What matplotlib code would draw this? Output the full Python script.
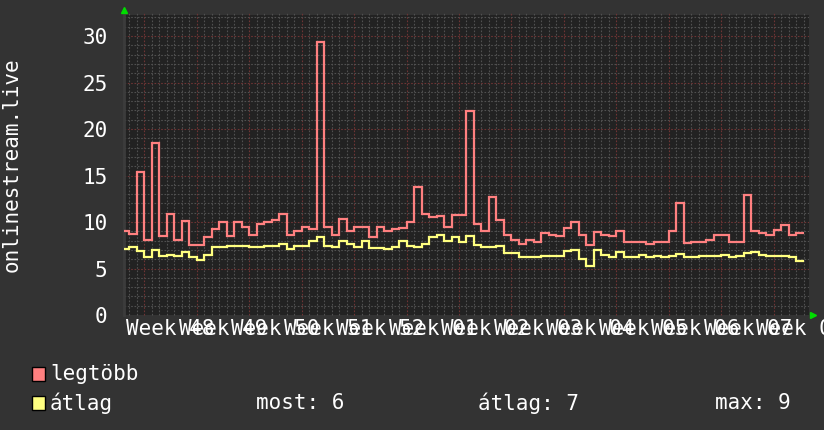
import numpy as np
import matplotlib
matplotlib.use("Agg")
import matplotlib.pyplot as plt
from matplotlib.patches import Rectangle
from matplotlib.lines import Line2D

# daily values, first sample starts 3 days before week 48
MAX_VALUES = [
    9.0, 8.75, 15.4, 8.1, 18.5, 8.5, 10.9, 8.1, 10.1, 7.5,
    7.5, 8.35, 9.3, 10.0, 8.5, 10.0, 9.5, 8.6, 9.8, 10.0,
    10.2, 10.85, 8.55, 9.0, 9.5, 9.2, 29.4, 9.5, 8.55, 10.35,
    9.0, 9.5, 9.5, 8.4, 9.5, 9.0, 9.3, 9.35, 9.95, 13.8,
    10.9, 10.5, 10.6, 9.5, 10.7, 10.7, 21.9, 9.8, 9.0, 12.7,
    10.2, 8.55, 8.1, 7.6, 8.1, 7.9, 8.8, 8.55, 8.45, 9.4,
    10.0, 8.55, 7.5, 8.9, 8.55, 8.45, 9.0, 7.9, 7.85, 7.9,
    7.6, 7.85, 7.85, 9.0, 12.05, 7.75, 7.9, 7.85, 8.1, 8.55,
    8.55, 7.9, 7.8, 12.95, 9.0, 8.8, 8.55, 9.1, 9.65, 8.55,
    8.8,
]
AVG_VALUES = [
    7.13, 7.28, 6.85, 6.24, 7.03, 6.3, 6.4, 6.3, 6.75, 6.2,
    5.95, 6.4, 7.28, 7.3, 7.38, 7.38, 7.38, 7.28, 7.35, 7.38,
    7.45, 7.63, 7.13, 7.38, 7.38, 7.92, 8.39, 7.38, 7.28, 7.99,
    7.63, 7.28, 7.99, 7.2, 7.2, 7.13, 7.3, 7.92, 7.38, 7.28,
    7.63, 8.35, 8.57, 7.92, 8.35, 7.85, 8.46, 7.49, 7.28, 7.28,
    7.38, 6.67, 6.67, 6.2, 6.2, 6.2, 6.38, 6.38, 6.3, 6.85,
    7.03, 6.06, 5.23, 7.03, 6.49, 6.2, 6.74, 6.2, 6.2, 6.49,
    6.2, 6.3, 6.2, 6.3, 6.6, 6.2, 6.2, 6.3, 6.3, 6.38,
    6.49, 6.2, 6.3, 6.67, 6.74, 6.49, 6.3, 6.38, 6.38, 6.2,
    5.77,
]
WEEKS = ["48", "49", "50", "51", "52", "01", "02", "03", "04", "05", "06", "07", "08"]
Y_TICKS = [0, 5, 10, 15, 20, 25, 30]

LEGEND_NAMES = ["legtöbb", "átlag"]
STATS = ["most: 6", "átlag: 7", "max: 9"]

# look
W, H = 824, 430
BG = "#333333"
PLOT_BG = "#222222"
RED = "#ff8080"
YELLOW = "#ffff80"
MINOR_GRID = "#505050"
MAJOR_GRID = "#6e3434"
FONT = "DejaVu Sans Mono"
FS = 15

plt.rcParams["font.family"] = FONT

fig = plt.figure(figsize=(W / 100, H / 100), dpi=100, facecolor=BG)
ax = fig.add_axes([124 / W, 1 - 315 / H, (809 - 124) / W, 300 / H])
ax.set_facecolor(PLOT_BG)

edges = np.arange(len(MAX_VALUES) + 1) - 3
ax.stairs(MAX_VALUES, edges, baseline=None, color=RED, lw=1.6, zorder=3)
ax.stairs(AVG_VALUES, edges, baseline=None, color=YELLOW, lw=1.6, zorder=3)

ax.set_xlim(-2.67, 88.67)
ax.set_ylim(0, 32.26)

# grid: days / weeks, 1 / 5 units; vertical lines poke 2px above the plot
for d in range(-2, 89):
    major = d % 7 == 0
    ax.axvline(d, ymax=1 + 2 / 300, clip_on=False,
               color=MAJOR_GRID if major else MINOR_GRID, lw=0.8,
               ls=(0, (1.5, 1.5)), zorder=1)
for v in range(1, 33):
    major = v % 5 == 0
    ax.axhline(v, color=MAJOR_GRID if major else MINOR_GRID, lw=0.8,
               ls=(0, (1.5, 1.5)), zorder=1)

ax.set_yticks(Y_TICKS)
ax.set_yticklabels([str(v) for v in Y_TICKS])
ax.set_xticks([7 * i + 3.5 for i in range(len(WEEKS))])
ax.set_xticklabels(["Week " + w for w in WEEKS])
ax.tick_params(axis="y", length=0, pad=12, labelsize=FS, colors="white")
ax.tick_params(axis="x", length=0, pad=3, labelsize=FS, colors="white")

for side in ["top", "right", "bottom"]:
    ax.spines[side].set_visible(False)
ax.spines["left"].set_color("#3c3c3c")
ax.spines["left"].set_linewidth(2)

# green axis arrows
fig.add_artist(Line2D([124 / W], [1 - 10 / H], marker="^", color="#00dd00",
                      markersize=4, transform=fig.transFigure))
fig.add_artist(Line2D([813 / W], [1 - 315 / H], marker=">", color="#00dd00",
                      markersize=4, transform=fig.transFigure))

fig.text(12 / W, 1 - 165 / H, "onlinestream.live", rotation=90, ha="center",
         va="center", color="white", fontsize=FS)

# legend
for k, (name, col) in enumerate(zip(LEGEND_NAMES, [RED, YELLOW])):
    yc = 374 + 29 * k
    fig.add_artist(Rectangle((32 / W, 1 - (yc + 7) / H), 13 / W, 14 / H,
                             facecolor=col, edgecolor="black", lw=1,
                             transform=fig.transFigure))
    fig.text(50 / W, 1 - yc / H, name, ha="left", va="center",
             color="white", fontsize=FS)
for x, s in zip([256, 478, 715], STATS):
    fig.text(x / W, 1 - 403 / H, s, ha="left", va="center",
             color="white", fontsize=FS)

fig.savefig("out.png", dpi=100, facecolor=BG)
